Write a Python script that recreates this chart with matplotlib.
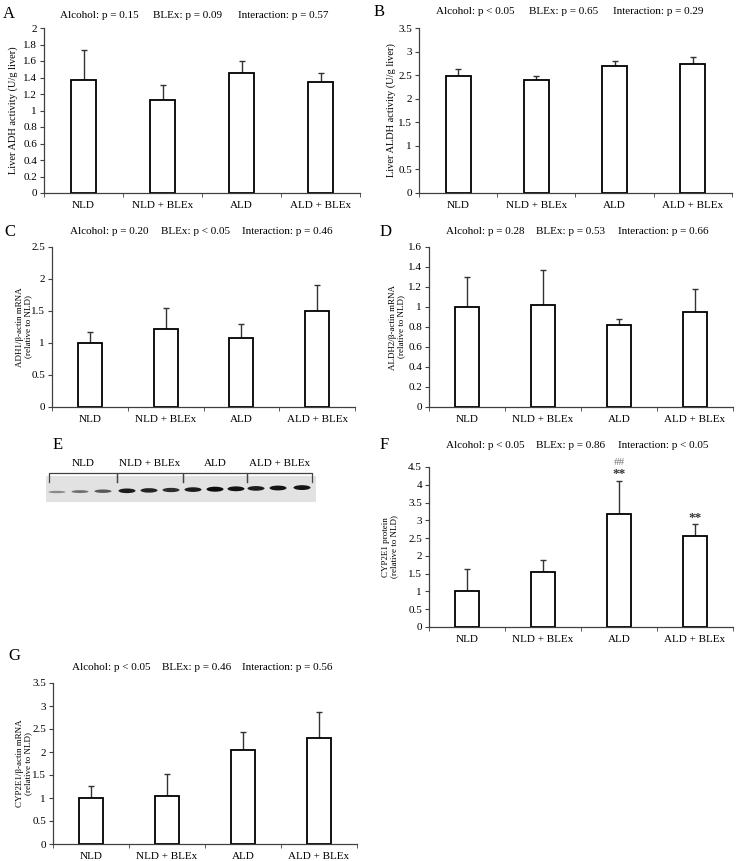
import numpy as np
import matplotlib
matplotlib.use("Agg")
import matplotlib.pyplot as plt
from matplotlib.patches import Rectangle, Ellipse

plt.rcParams['font.family'] = ['Liberation Serif', 'DejaVu Serif']
plt.rcParams['font.size'] = 8

groups = ["NLD", "NLD + BLEx", "ALD", "ALD + BLEx"]

# panel A: liver ADH activity
adh_act = [1.37, 1.13, 1.46, 1.34]
adh_act_top = [1.73, 1.31, 1.60, 1.46]
# panel B: liver ALDH activity
aldh_act = [2.49, 2.40, 2.70, 2.74]
aldh_act_top = [2.63, 2.48, 2.81, 2.89]
# panel C: ADH1 mRNA
adh1 = [1.00, 1.22, 1.08, 1.50]
adh1_top = [1.17, 1.55, 1.29, 1.91]
# panel D: ALDH2 mRNA
aldh2 = [1.00, 1.02, 0.82, 0.95]
aldh2_top = [1.30, 1.37, 0.88, 1.18]
# panel F: CYP2E1 protein
cyp_prot = [1.00, 1.55, 3.18, 2.55]
cyp_prot_top = [1.63, 1.88, 4.12, 2.91]
# panel G: CYP2E1 mRNA
cyp_mrna = [1.00, 1.04, 2.05, 2.31]
cyp_mrna_top = [1.26, 1.53, 2.44, 2.87]

# panel E: western blot band strength per lane (3 lanes per group)
band_strength = [0.25, 0.4, 0.55, 0.9, 0.85, 0.8, 0.9, 1.0, 0.95, 0.9, 0.95, 0.95]

W, H = 736, 861
fig = plt.figure(figsize=(W / 100, H / 100), dpi=100)


def px_axes(left, right, top, bottom):
	return fig.add_axes([left / W, 1 - bottom / H, (right - left) / W, (bottom - top) / H])


def bar_panel(box, vals, tops, ymax, ystep, ylabel, letter, letter_xy, pvals, p_xs, p_y, lab_x, lab_fs=6.5):
	ax = px_axes(*box)
	x = np.arange(len(groups))
	err = [np.zeros(len(vals)), np.array(tops) - np.array(vals)]
	ax.bar(x, vals, width=0.32, color='white', edgecolor='black', linewidth=1.3, zorder=2)
	ax.errorbar(x, vals, yerr=err, fmt='none', ecolor='#333333', elinewidth=1.0,
				capsize=2, capthick=1.0, zorder=1)
	ax.set_xlim(-0.5, len(groups) - 0.5)
	ax.set_ylim(0, ymax)
	yt = np.round(np.arange(0, ymax + 1e-9, ystep), 2)
	ax.set_yticks(yt)
	ax.set_yticklabels(['%g' % v for v in yt])
	ax.set_xticks(x)
	ax.set_xticklabels(groups)
	ax.set_xticks(np.arange(-0.5, len(groups), 1.0), minor=True)
	ax.tick_params(axis='x', which='major', length=0, pad=6)
	ax.tick_params(axis='x', which='minor', length=3, direction='out', color='#404040')
	ax.tick_params(axis='y', length=3, direction='out', color='#404040', pad=2)
	for s in ['top', 'right']:
		ax.spines[s].set_visible(False)
	for s in ['left', 'bottom']:
		ax.spines[s].set_color('#404040')
		ax.spines[s].set_linewidth(0.9)
	ax.set_ylabel(ylabel, fontsize=lab_fs, linespacing=1.1, va='center')
	ax.yaxis.set_label_coords((lab_x - box[0]) / (box[1] - box[0]), 0.5)
	fig.text(letter_xy[0] / W, 1 - letter_xy[1] / H, letter, fontsize=12, ha='left', va='center')
	for t, xx in zip(pvals, p_xs):
		fig.text(xx / W, 1 - p_y / H, t, fontsize=8, ha='left', va='center')
	return ax


bar_panel((44, 360, 28, 193), adh_act, adh_act_top, 2.0, 0.2,
		  "Liver ADH activity (U/g liver)", "A", (3, 14),
		  ["Alcohol: p = 0.15", "BLEx: p = 0.09", "Interaction: p = 0.57"], [60, 153, 238], 15, 13, 7.5)
bar_panel((419, 732, 28, 193), aldh_act, aldh_act_top, 3.5, 0.5,
		  "Liver ALDH activity (U/g liver)", "B", (374, 12),
		  ["Alcohol: p < 0.05", "BLEx: p = 0.65", "Interaction: p = 0.29"], [436, 529, 613], 12, 391, 7.5)
bar_panel((52, 355, 247, 407), adh1, adh1_top, 2.5, 0.5,
		  "ADH1/β-actin mRNA\n(relative to NLD)", "C", (4, 232),
		  ["Alcohol: p = 0.20", "BLEx: p < 0.05", "Interaction: p = 0.46"], [70, 161, 242], 232, 24)
bar_panel((429, 733, 247, 407), aldh2, aldh2_top, 1.6, 0.2,
		  "ALDH2/β-actin mRNA\n(relative to NLD)", "D", (380, 232),
		  ["Alcohol: p = 0.28", "BLEx: p = 0.53", "Interaction: p = 0.66"], [446, 536, 618], 232, 397)
axf = bar_panel((429, 733, 467, 627), cyp_prot, cyp_prot_top, 4.5, 0.5,
				"CYP2E1 protein\n(relative to NLD)", "F", (380, 445),
				["Alcohol: p < 0.05", "BLEx: p = 0.86", "Interaction: p < 0.05"], [446, 536, 618], 445, 390)
axf.text(2, 4.30, "**", ha='center', va='center', fontsize=9.5, fontweight='bold', color='#333333')
axf.text(2, 4.62, "##", ha='center', va='center', fontsize=8, color='#777777', clip_on=False)
axf.text(3, 3.06, "**", ha='center', va='center', fontsize=9.5, fontweight='bold', color='#333333')
bar_panel((53, 357, 683, 844), cyp_mrna, cyp_mrna_top, 3.5, 0.5,
		  "CYP2E1/β-actin mRNA\n(relative to NLD)", "G", (8, 656),
		  ["Alcohol: p < 0.05", "BLEx: p = 0.46", "Interaction: p = 0.56"], [72, 162, 242], 667, 24)

# panel E: blot
axe = px_axes(40, 330, 450, 510)
axe.set_xlim(40, 330)
axe.set_ylim(510, 450)
axe.axis('off')
axe.add_patch(Rectangle((46, 476), 270, 26, facecolor='#e2e2e2', edgecolor='none'))
lane_x = [57, 80, 103, 127, 149, 171, 193, 215, 236, 256, 278, 302]
for i, (lx, s) in enumerate(zip(lane_x, band_strength)):
	axe.add_patch(Ellipse((lx, 492 - 0.4 * i), 17, 1.5 + 3.5 * s, facecolor='black',
						  alpha=0.2 + 0.75 * s, edgecolor='none'))
brackets = [(49, 117), (117, 183), (183, 247), (247, 312)]
for (a, b), g in zip(brackets, groups):
	axe.plot([a, a, b, b], [482, 473, 473, 482], color='#444444', lw=0.9)
	axe.text((a + b) / 2, 464, g, ha='center', va='center', fontsize=8)
fig.text(53 / W, 1 - 445 / H, "E", fontsize=12, ha='left', va='center')

fig.savefig("out.png", dpi=100)
